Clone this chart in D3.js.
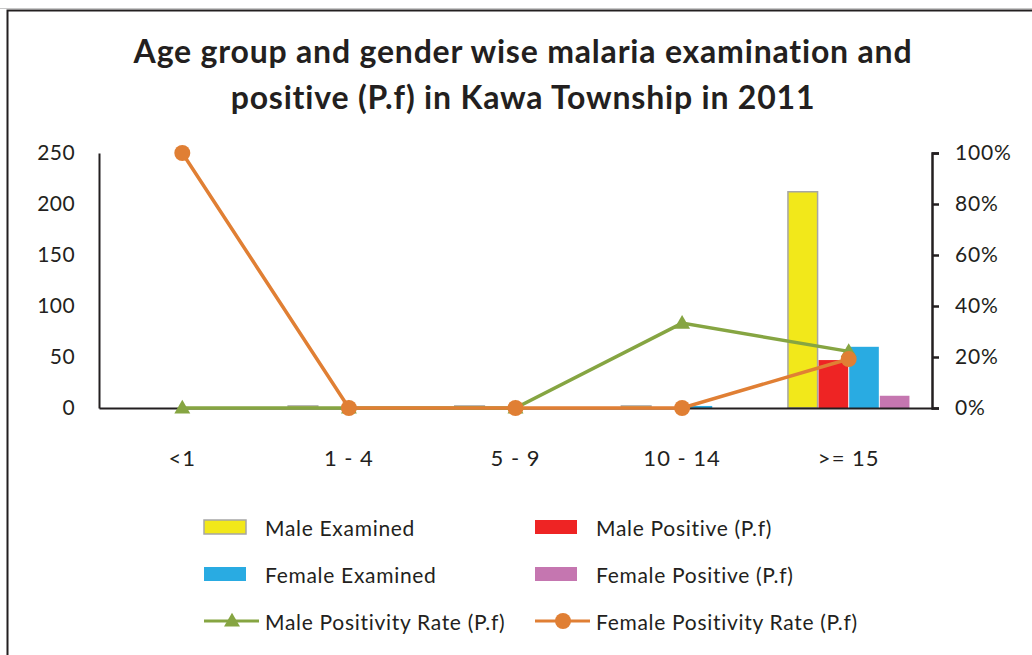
<!DOCTYPE html>
<html>
<head>
<meta charset="utf-8">
<script src="https://cdn.jsdelivr.net/npm/d3@7"></script>
<style>
  body { margin: 0; background: #fff; }
  text { font-family: Lato, "Open Sans", sans-serif; fill: #231F20; }
</style>
</head>
<body>
<div id="chart"></div>
<script>
// data
const ageGroups = ["<1", "1 - 4", "5 - 9", "10 - 14", ">= 15"];
const maleExamined = [0, 2, 2, 2, 212];
const malePositive = [0, 0, 0, 1, 47];
const femaleExamined = [1, 0, 1, 2, 60];
const femalePositive = [1, 0, 0, 0, 12];
const maleRate = [0, 0, 0, 0.333, 0.222];
const femaleRate = [1, 0, 0, 0, 0.192];
const leftTicks = [0, 50, 100, 150, 200, 250];
const rightTicks = [0, 0.2, 0.4, 0.6, 0.8, 1];

const barSeries = [
    {name: "Male Examined", values: maleExamined, fill: "#F2E81A", stroke: "#A6A6A6"},
    {name: "Male Positive (P.f)", values: malePositive, fill: "#EE2424", stroke: "none"},
    {name: "Female Examined", values: femaleExamined, fill: "#29ABE2", stroke: "none"},
    {name: "Female Positive (P.f)", values: femalePositive, fill: "#C576B0", stroke: "none"}
];
const lineSeries = [
    {name: "Male Positivity Rate (P.f)", values: maleRate, color: "#86A542", marker: "triangle"},
    {name: "Female Positivity Rate (P.f)", values: femaleRate, color: "#E07F34", marker: "circle"}
];

const W = 1032, H = 655;
const plot = {left: 99, right: 932, top: 153, bottom: 408};

const svg = d3.select("#chart").append("svg")
    .attr("width", W)
    .attr("height", H);

// outer frame
svg.append("line").attr("x1", 0).attr("x2", W).attr("y1", 8.5).attr("y2", 8.5)
    .style("stroke", "#C8C8C8").style("stroke-width", 1);
svg.append("rect")
    .attr("x", 7.5).attr("y", 10.5)
    .attr("width", W + 20).attr("height", H + 20)
    .style("fill", "none").style("stroke", "#231F20").style("stroke-width", 2);

// title
const title = svg.append("text")
    .attr("x", 523).attr("y", 63)
    .style("text-anchor", "middle")
    .style("font-size", "32px")
    .style("letter-spacing", "0.8px")
    .style("font-weight", "bold");
title.append("tspan").attr("x", 523).attr("dy", 0).text("Age group and gender wise malaria examination and");
title.append("tspan").attr("x", 523).attr("dy", 46).text("positive (P.f) in Kawa Township in 2011");

const x = d3.scaleBand()
    .domain(ageGroups)
    .range([plot.left, plot.right]);

const xInner = d3.scaleBand()
    .domain(barSeries.map(d => d.name))
    .range([0, x.bandwidth()])
    .paddingOuter(0.72);

const yLeft = d3.scaleLinear().domain([0, 250]).range([plot.bottom, plot.top]);
const yRight = d3.scaleLinear().domain([0, 1]).range([plot.bottom, plot.top]);

// bars
barSeries.forEach(s => {
    svg.append("g").selectAll("rect")
        .data(s.values)
        .enter()
        .append("rect")
        .attr("x", (d, i) => x(ageGroups[i]) + xInner(s.name) + 0.5)
        .attr("width", xInner.bandwidth() - 1)
        .attr("y", d => yLeft(d))
        .attr("height", d => plot.bottom - yLeft(d))
        .style("fill", s.fill)
        .style("stroke", d => d > 0 ? s.stroke : "none")
        .style("stroke-width", 1.5);
});

// left axis
const leftAxis = svg.append("g")
    .attr("transform", `translate(${plot.left},0)`)
    .call(d3.axisLeft(yLeft).tickValues(leftTicks).tickSize(0).tickPadding(24));
leftAxis.select(".domain").style("stroke", "#231F20").style("stroke-width", 2);
leftAxis.selectAll("text").style("font-size", "21px").style("letter-spacing", "0.4px").style("fill", "#231F20");

// right axis
const rightAxis = svg.append("g")
    .attr("transform", `translate(${plot.right},0)`)
    .call(d3.axisRight(yRight).tickValues(rightTicks).tickSize(7).tickSizeOuter(7).tickPadding(16).tickFormat(d3.format(".0%")));
rightAxis.select(".domain").style("stroke", "#231F20").style("stroke-width", 2.5);
rightAxis.selectAll(".tick line").style("stroke", "#231F20").style("stroke-width", 2.5);
rightAxis.selectAll("text").style("font-size", "21px").style("letter-spacing", "0.8px").style("fill", "#231F20");

// x axis
const xAxis = svg.append("g")
    .attr("transform", `translate(0,${plot.bottom})`)
    .call(d3.axisBottom(x).tickSize(0).tickPadding(42));
xAxis.select(".domain").style("stroke", "#231F20").style("stroke-width", 2);
xAxis.selectAll("text").style("font-size", "22px").style("letter-spacing", "1px").style("fill", "#231F20");

// lines
const line = d3.line()
    .x((d, i) => x(ageGroups[i]) + x.bandwidth() / 2)
    .y(d => yRight(d));

const triangle = d3.symbol().type(d3.symbolTriangle).size(110);

lineSeries.forEach(s => {
    svg.append("path")
        .datum(s.values)
        .attr("d", line)
        .style("fill", "none")
        .style("stroke", s.color)
        .style("stroke-width", 3.5);
    const pts = svg.append("g").selectAll(".pt")
        .data(s.values)
        .enter();
    if (s.marker === "triangle") {
        pts.append("path")
            .attr("d", triangle)
            .attr("transform", (d, i) => `translate(${x(ageGroups[i]) + x.bandwidth() / 2},${yRight(d) + 1})`)
            .style("fill", s.color);
    } else {
        pts.append("circle")
            .attr("cx", (d, i) => x(ageGroups[i]) + x.bandwidth() / 2)
            .attr("cy", d => yRight(d))
            .attr("r", 8)
            .style("fill", s.color);
    }
});

// legend
const legendCols = [204, 535];
const legendRows = [527, 574, 621];
const legendItems = barSeries.map(d => ({type: "bar", d: d}))
    .concat(lineSeries.map(d => ({type: "line", d: d})));

legendItems.forEach((item, k) => {
    const lx = legendCols[k % 2], ly = legendRows[Math.floor(k / 2)];
    const g = svg.append("g").attr("transform", `translate(${lx},${ly})`);
    if (item.type === "bar") {
        g.append("rect")
            .attr("x", 0).attr("y", -7)
            .attr("width", 42).attr("height", 14)
            .style("fill", item.d.fill)
            .style("stroke", item.d.stroke)
            .style("stroke-width", 1.5);
    } else {
        g.append("line")
            .attr("x1", 0).attr("x2", 55).attr("y1", 0).attr("y2", 0)
            .style("stroke", item.d.color).style("stroke-width", 3);
        if (item.d.marker === "triangle") {
            g.append("path").attr("d", triangle)
                .attr("transform", "translate(28,1)")
                .style("fill", item.d.color);
        } else {
            g.append("circle").attr("cx", 28).attr("cy", 0).attr("r", 8)
                .style("fill", item.d.color);
        }
    }
    g.append("text")
        .attr("x", 61).attr("y", 0)
        .style("dominant-baseline", "central")
        .style("font-size", "21px")
        .style("letter-spacing", "0.7px")
        .text(item.d.name);
});
</script>
</body>
</html>
